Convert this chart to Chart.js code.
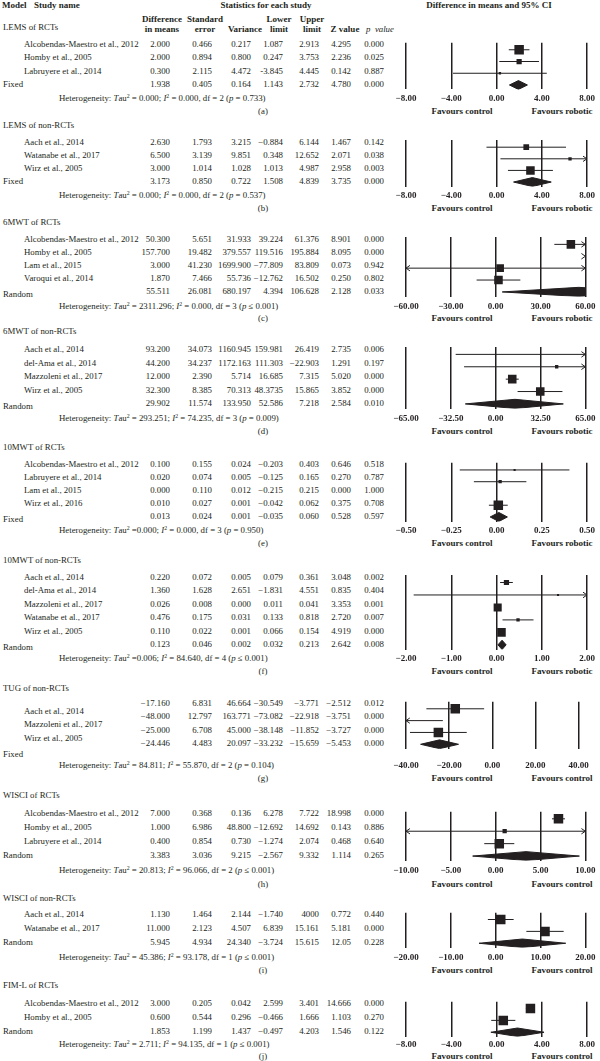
<!DOCTYPE html>
<html>
<head>
<meta charset="utf-8">
<title>Forest plots</title>
<script src="https://cdn.jsdelivr.net/npm/chart.js@4.4.1/dist/chart.umd.min.js"></script>
<style>
    html, body { margin: 0; padding: 0; background: #fff; }
    body { position: relative; width: 600px; height: 1061px; overflow: hidden;
           font-family: "Liberation Serif", "DejaVu Serif", serif; color: #231f20; }
    .t { position: absolute; white-space: nowrap; font-size: 8.8px; line-height: 1; }
    .b { font-weight: bold; font-size: 9px; }
    .h { font-weight: bold; font-size: 9px; }
    sup { font-size: 5.8px; position: relative; top: -3px; vertical-align: baseline; line-height: 0; }
    .plot { position: absolute; }
</style>
</head>
<body>
<script>
// ---- data ----
const panelTitles = ['LEMS of RCTs', 'LEMS of non-RCTs', '6MWT of RCTs', '6MWT of non-RCTs', '10MWT of RCTs',
    '10MWT of non-RCTs', 'TUG of non-RCTs', 'WISCI of RCTs', 'WISCI of non-RCTs', 'FIM-L of RCTs'];
const panelLetters = ['(a)', '(b)', '(c)', '(d)', '(e)', '(f)', '(g)', '(h)', '(i)', '(j)'];
const modelLabels = ['Fixed', 'Fixed', 'Random', 'Random', 'Fixed', 'Random', 'Fixed', 'Random', 'Random', 'Random'];

const studyNames = [
    ['Alcobendas-Maestro et al., 2012', 'Homby et al., 2005', 'Labruyere et al., 2014'],
    ['Aach et al., 2014', 'Watanabe et al., 2017', 'Wirz et al., 2005'],
    ['Alcobendas-Maestro et al., 2012', 'Homby et al., 2005', 'Lam et al., 2015', 'Varoqui et al., 2014'],
    ['Aach et al., 2014', 'del-Ama et al., 2014', 'Mazzoleni et al., 2017', 'Wirz et al., 2005'],
    ['Alcobendas-Maestro et al., 2012', 'Labruyere et al., 2014', 'Lam et al., 2015', 'Wirz et al., 2016'],
    ['Aach et al., 2014', 'del-Ama et al., 2014', 'Mazzoleni et al., 2017', 'Watanabe et al., 2017', 'Wirz et al., 2005'],
    ['Aach et al., 2014', 'Mazzoleni et al., 2017', 'Wirz et al., 2005'],
    ['Alcobendas-Maestro et al., 2012', 'Homby et al., 2005', 'Labruyere et al., 2014'],
    ['Aach et al., 2014', 'Watanabe et al., 2017'],
    ['Alcobendas-Maestro et al., 2012', 'Homby et al., 2005']
];

// difference, SE, variance, lower, upper, Z, p (as printed)
const studyStats = [
    [['2.000', '0.466', '0.217', '1.087', '2.913', '4.295', '0.000'],
     ['2.000', '0.894', '0.800', '0.247', '3.753', '2.236', '0.025'],
     ['0.300', '2.115', '4.472', '-3.845', '4.445', '0.142', '0.887']],
    [['2.630', '1.793', '3.215', '−0.884', '6.144', '1.467', '0.142'],
     ['6.500', '3.139', '9.851', '0.348', '12.652', '2.071', '0.038'],
     ['3.000', '1.014', '1.028', '1.013', '4.987', '2.958', '0.003']],
    [['50.300', '5.651', '31.933', '39.224', '61.376', '8.901', '0.000'],
     ['157.700', '19.482', '379.557', '119.516', '195.884', '8.095', '0.000'],
     ['3.000', '41.230', '1699.900', '−77.809', '83.809', '0.073', '0.942'],
     ['1.870', '7.466', '55.736', '−12.762', '16.502', '0.250', '0.802']],
    [['93.200', '34.073', '1160.945', '159.981', '26.419', '2.735', '0.006'],
     ['44.200', '34.237', '1172.163', '111.303', '−22.903', '1.291', '0.197'],
     ['12.000', '2.390', '5.714', '16.685', '7.315', '5.020', '0.000'],
     ['32.300', '8.385', '70.313', '48.3735', '15.865', '3.852', '0.000']],
    [['0.100', '0.155', '0.024', '−0.203', '0.403', '0.646', '0.518'],
     ['0.020', '0.074', '0.005', '−0.125', '0.165', '0.270', '0.787'],
     ['0.000', '0.110', '0.012', '−0.215', '0.215', '0.000', '1.000'],
     ['0.010', '0.027', '0.001', '−0.042', '0.062', '0.375', '0.708']],
    [['0.220', '0.072', '0.005', '0.079', '0.361', '3.048', '0.002'],
     ['1.360', '1.628', '2.651', '−1.831', '4.551', '0.835', '0.404'],
     ['0.026', '0.008', '0.000', '0.011', '0.041', '3.353', '0.001'],
     ['0.476', '0.175', '0.031', '0.133', '0.818', '2.720', '0.007'],
     ['0.110', '0.022', '0.001', '0.066', '0.154', '4.919', '0.000']],
    [['−17.160', '6.831', '46.664', '−30.549', '−3.771', '−2.512', '0.012'],
     ['−48.000', '12.797', '163.771', '−73.082', '−22.918', '−3.751', '0.000'],
     ['−25.000', '6.708', '45.000', '−38.148', '−11.852', '−3.727', '0.000']],
    [['7.000', '0.368', '0.136', '6.278', '7.722', '18.998', '0.000'],
     ['1.000', '6.986', '48.800', '−12.692', '14.692', '0.143', '0.886'],
     ['0.400', '0.854', '0.730', '−1.274', '2.074', '0.468', '0.640']],
    [['1.130', '1.464', '2.144', '−1.740', '4000', '0.772', '0.440'],
     ['11.000', '2.123', '4.507', '6.839', '15.161', '5.181', '0.000']],
    [['3.000', '0.205', '0.042', '2.599', '3.401', '14.666', '0.000'],
     ['0.600', '0.544', '0.296', '−0.466', '1.666', '1.103', '0.270']]
];

const summaryStats = [
    ['1.938', '0.405', '0.164', '1.143', '2.732', '4.780', '0.000'],
    ['3.173', '0.850', '0.722', '1.508', '4.839', '3.735', '0.000'],
    ['55.511', '26.081', '680.197', '4.394', '106.628', '2.128', '0.033'],
    ['29.902', '11.574', '133.950', '52.586', '7.218', '2.584', '0.010'],
    ['0.013', '0.024', '0.001', '−0.035', '0.060', '0.528', '0.597'],
    ['0.123', '0.046', '0.002', '0.032', '0.213', '2.642', '0.008'],
    ['−24.446', '4.483', '20.097', '−33.232', '−15.659', '−5.453', '0.000'],
    ['3.383', '3.036', '9.215', '−2.567', '9.332', '1.114', '0.265'],
    ['5.945', '4.934', '24.340', '−3.724', '15.615', '12.05', '0.228'],
    ['1.853', '1.199', '1.437', '−0.497', '4.203', '1.546', '0.122']
];

const hetTau = ['= 0.000', '= 0.000', '= 2311.296', '= 293.251', '=0.000', '=0.006', '= 84.811', '= 20.813', '= 45.386', '= 2.711'];
const hetI2 = ['0.000', '0.000', '0.000', '74.235', '0.000', '84.640', '55.870', '96.066', '93.178', '94.135'];
const hetDf = [2, 2, 3, 3, 3, 4, 2, 2, 1, 1];
const hetP = ['= 0.733', '= 0.537', '≤ 0.001', '= 0.009', '= 0.950', '≤ 0.001', '= 0.104', '≤ 0.001', '≤ 0.001', '≤ 0.001'];

// plotted marks (null = nothing drawn)
const estimates = [
    [2.0, 2.0, 0.3], [2.63, 6.5, 3.0], [50.3, 157.7, 3.0, 1.87], [93.2, 44.2, 12.0, 32.3],
    [0.1, 0.02, null, 0.01], [0.22, 1.36, 0.026, 0.476, 0.11], [-17.16, -48.0, -25.0],
    [7.0, 1.0, 0.4], [1.13, 11.0], [3.0, 0.6]
];
const lowerCI = [
    [1.087, 0.247, -3.845], [-0.884, 0.348, 1.013], [39.224, 119.516, -77.809, -12.762], [-29, -22.903, 7.315, 15.865],
    [-0.203, -0.125, null, -0.042], [0.079, -1.831, 0.011, 0.133, 0.066], [-30.549, -73.082, -38.148],
    [6.278, -12.692, -1.274], [-1.740, 6.839], [2.599, -0.466]
];
const upperCI = [
    [2.913, 3.753, 4.445], [6.144, 12.652, 4.987], [61.376, 195.884, 83.809, 16.502], [159.981, 111.303, 16.685, 48.374],
    [0.403, 0.165, null, 0.062], [0.361, 4.551, 0.041, 0.818, 0.154], [-3.771, -22.918, -11.852],
    [7.722, 14.692, 2.074], [4.000, 15.161], [3.401, 1.666]
];
// relative study weights (size of the squares)
const studyWeights = [
    [1, 0.55, 0.25], [0.6, 0.35, 0.9], [0.9, 0.5, 0.8, 0.9], [0.35, 0.35, 0.9, 0.9],
    [0.22, 0.35, 0.2, 1], [0.55, 0.22, 0.85, 0.35, 0.9], [1, 0.5, 1], [1, 0.45, 1], [1, 1], [1, 1]
];
const pooledEst = [1.938, 3.173, 55.511, 14, 0.013, 0.123, -24.446, 3.383, 5.945, 1.853];
const pooledLower = [1.143, 1.508, 4.394, -22, -0.035, 0.032, -33.232, -2.567, -3.724, -0.497];
const pooledUpper = [2.732, 4.839, 106.628, 49, 0.060, 0.213, -15.659, 9.332, 15.615, 4.203];

const axisMax = [8, 8, 60, 65, 0.5, 2, 40, 10, 20, 8];
const favourLeft = ['Favours control', 'Favours control', 'Favours control', 'Favours control', 'Favours control',
    'Favours control', 'Favours control', 'Favours control', 'Favours control', 'Favours control'];
const favourRight = ['Favours robotic', 'Favours robotic', 'Favours robotic', 'Favours robotic', 'Favours robotic',
    'Favours robotic', 'Favours control', 'Favours control', 'Favours control', 'Favours control'];

// ---- layout ----
const ink = '#231f20';
const colRight = [170, 212, 251, 283, 319, 351, 384];
const colHead = [162, 205, 245, 279, 312, 345, 380];
const plotLeft = 406, plotRight = 587, canvasLeft = 380, canvasW = 220;
const layout = [
    { title: 27, first: 44, gap: 13.3, het: 98, letter: 111, sumShift: 0 },
    { title: 125, first: 142, gap: 13, het: 195, letter: 208, sumShift: 0 },
    { title: 222, first: 239, gap: 13, het: 306, letter: 318, sumShift: 3 },
    { title: 331, first: 349, gap: 13.5, het: 418, letter: 431, sumShift: 3 },
    { title: 447, first: 464, gap: 13, het: 530, letter: 543, sumShift: 3 },
    { title: 560, first: 577, gap: 13.4, het: 658, letter: 671, sumShift: 3 },
    { title: 688, first: 703, gap: 13.4, het: 765, letter: 778, nameShift: 8, sumShift: 11 },
    { title: 795, first: 813, gap: 14, het: 870, letter: 884, sumShift: 0 },
    { title: 898, first: 914, gap: 14, het: 957, letter: 970, sumShift: 0 },
    { title: 985, first: 1003, gap: 14, het: 1044, letter: 1056, sumShift: 0 }
];

/**
 * Place one piece of text, vertically centred on y
 */
function put(html, x, y, align, cls) {
    const el = document.createElement('div');
    el.className = 't ' + (cls || '');
    el.innerHTML = html;
    el.style.left = x + 'px';
    el.style.top = y + 'px';
    const dx = align === 'right' ? '-100%' : align === 'center' ? '-50%' : '0';
    el.style.transform = 'translate(' + dx + ', -50%)';
    document.body.appendChild(el);
}

function fmtTick(v) {
    const s = Math.abs(v).toFixed(2);
    return v < 0 ? '\u2212' + s : s;
}

function drawHeader() {
    put('Model', 2, 5, 'left', 'b');
    put('Study name', 34, 5, 'left', 'b');
    put('Statistics for each study', 266, 5, 'center', 'b');
    put('Difference in means and 95% CI', 489, 5, 'center', 'b');

    const line1 = ['Difference', 'Standard', '', 'Lower', 'Upper', '', ''];
    const line2 = ['in means', 'error', 'Variance', 'limit', 'limit', 'Z value', '<i>p</i>&nbsp;&nbsp;<i>value</i>'];
    line1.forEach((txt, c) => { if (txt) put(txt, colHead[c], 19, 'center', 'b'); });
    line2.forEach((txt, c) => put(txt, colHead[c], 29, 'center', c === 6 ? '' : 'b'));
}

function drawTable(p) {
    const L = layout[p];
    const n = studyNames[p].length;
    const shift = L.nameShift || 0;
    put(panelTitles[p], 3, L.title);

    studyNames[p].forEach((name, i) => {
        const y = L.first + i * L.gap;
        put(name, 24, y + shift);
        studyStats[p][i].forEach((v, c) => put(v, colRight[c], y, 'right'));
    });

    const sumY = L.first + n * L.gap;
    put(modelLabels[p], 3, sumY + L.sumShift);
    summaryStats[p].forEach((v, c) => put(v, colRight[c], sumY, 'right'));

    put('Heterogeneity: <i>T</i>au<sup>2</sup> ' + hetTau[p] + '; <i>I</i><sup>2</sup> = ' + hetI2[p] +
        ', df = ' + hetDf[p] + ' (<i>p</i> ' + hetP[p] + ')', 59, L.het);
    put(panelLetters[p], 263, L.letter, 'center');
    put(favourLeft[p], 462, L.letter, 'center', 'h');
    put(favourRight[p], 562, L.letter, 'center', 'h');
}

/**
 * One forest plot drawn with Chart.js scatter datasets
 */
function drawForest(p) {
    const L = layout[p];
    const n = studyNames[p].length;
    const sumY = L.first + n * L.gap;
    const top = L.first - 8;
    const bottom = sumY + 5;
    const tickPad = Math.max(1, L.het - bottom - 5.5);
    const axisH = tickPad + 11;

    const wrap = document.createElement('div');
    wrap.className = 'plot';
    wrap.style.left = canvasLeft + 'px';
    wrap.style.top = top + 'px';
    const canvas = document.createElement('canvas');
    const h = Math.round(bottom - top + axisH);
    canvas.width = canvasW;
    canvas.height = h;
    canvas.style.width = canvasW + 'px';
    canvas.style.height = h + 'px';
    wrap.appendChild(canvas);
    document.body.appendChild(wrap);

    const max = axisMax[p];
    const perPxX = 2 * max / (plotRight - plotLeft);
    const perPxY = 1 / L.gap;
    const datasets = [];
    const squares = [];
    const radii = [];

    estimates[p].forEach((est, i) => {
        if (est === null) return;
        const lo = lowerCI[p][i];
        const hi = upperCI[p][i];
        datasets.push({
            data: [{ x: lo, y: i }, { x: hi, y: i }],
            showLine: true, borderColor: ink, borderWidth: 1, pointRadius: 0, order: 2
        });
        // arrow heads where the interval leaves the axis
        if (hi > max) {
            datasets.push({
                data: [{ x: max - 4 * perPxX, y: i - 3 * perPxY }, { x: max, y: i }, { x: max - 4 * perPxX, y: i + 3 * perPxY }],
                showLine: true, borderColor: ink, borderWidth: 1, pointRadius: 0, clip: 6, order: 2
            });
        }
        if (lo < -max) {
            datasets.push({
                data: [{ x: -max + 4 * perPxX, y: i - 3 * perPxY }, { x: -max, y: i }, { x: -max + 4 * perPxX, y: i + 3 * perPxY }],
                showLine: true, borderColor: ink, borderWidth: 1, pointRadius: 0, clip: 6, order: 2
            });
        }
        squares.push({ x: est, y: i });
        radii.push(studyWeights[p][i] * 9.5 / Math.SQRT2);
    });

    datasets.push({
        data: squares, pointStyle: 'rect', pointRadius: radii, pointHoverRadius: radii,
        backgroundColor: ink, borderColor: ink, borderWidth: 0, showLine: false, order: 0
    });

    // pooled diamond
    const dh = 5 * perPxY;
    datasets.push({
        data: [
            { x: pooledLower[p], y: n }, { x: pooledEst[p], y: n - dh }, { x: pooledUpper[p], y: n },
            { x: pooledEst[p], y: n + dh }, { x: pooledLower[p], y: n }
        ],
        showLine: true, fill: 'shape', backgroundColor: ink, borderColor: ink, borderWidth: 1,
        pointRadius: 0, tension: 0, order: 1
    });

    new Chart(canvas, {
        type: 'scatter',
        data: { datasets: datasets },
        options: {
            responsive: false,
            animation: false,
            events: [],
            layout: {
                padding: { left: plotLeft - canvasLeft, right: canvasLeft + canvasW - plotRight, top: 0, bottom: 0 }
            },
            plugins: { legend: { display: false }, tooltip: { enabled: false } },
            scales: {
                x: {
                    type: 'linear', min: -max, max: max,
                    border: { display: false },
                    grid: { color: ink, lineWidth: 1.5, drawTicks: false },
                    ticks: {
                        stepSize: max / 2, autoSkip: false, maxRotation: 0, padding: tickPad, color: ink,
                        font: { family: '"Liberation Serif", serif', size: 9, weight: 'bold' },
                        callback: function (value) { return fmtTick(value); }
                    },
                    afterFit: function (scale) { scale.height = axisH; }
                },
                y: {
                    type: 'linear', display: false, reverse: true,
                    min: -8 * perPxY, max: n + 5 * perPxY
                }
            }
        }
    });
}

drawHeader();
panelTitles.forEach(function (title, p) {
    drawTable(p);
    drawForest(p);
});
</script>
</body>
</html>
